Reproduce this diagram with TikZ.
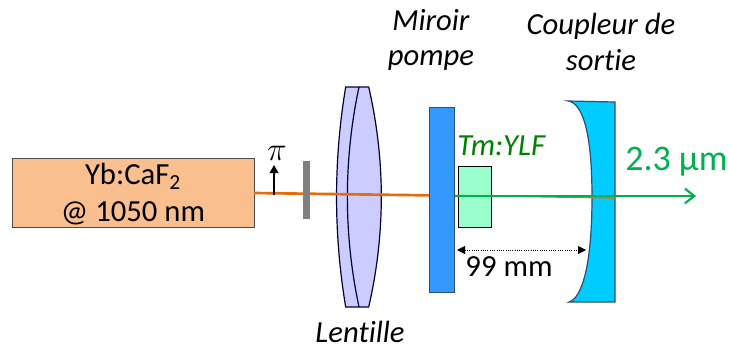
\documentclass[tikz,border=0pt]{standalone}
\usepackage{fontspec}
\setmainfont[Ligatures=NoCommon]{Carlito}
\usetikzlibrary{arrows.meta}
\definecolor{laserfill}{HTML}{FABF8F}
\definecolor{lensfill}{HTML}{CCCCFF}
\definecolor{mirrorfill}{HTML}{3399FF}
\definecolor{crystalfill}{HTML}{99FFCC}
\definecolor{couplerfill}{HTML}{00CCFF}
\definecolor{beamorange}{HTML}{E46C0A}
\definecolor{beamgreen}{HTML}{00B050}
\definecolor{edgeblue}{HTML}{2F4F6F}
\definecolor{labelgreen}{HTML}{008000}
\tikzset{
  lbl/.style={font=\fontsize{23pt}{27.75pt}\selectfont,inner sep=0pt,align=center},
  ilbl/.style={lbl,font=\fontsize{23pt}{26.5pt}\selectfont\itshape},
  optic/.style={draw=edgeblue,line width=0.9pt},
  beam/.style={line width=2pt},
}
\begin{document}
\begin{tikzpicture}[x=0.75pt,y=-0.75pt]
\useasboundingbox (0,0) rectangle (729,347);
% laser
\node[draw=black!70,line width=0.9pt,fill=laserfill,minimum width=181.5pt,minimum height=51.75pt,inner sep=0pt,anchor=north west] (laser) at (12,158) {};
\node[lbl] (lasertext) at (133,194) {Yb:CaF\textsubscript{2}\\@ 1050 nm};
% lens
\filldraw[fill=lensfill,optic,draw=black!80!blue] (345.7,87) .. controls (333.5,160) and (333.5,234) .. (345.7,307) -- (368.7,307) .. controls (385.5,234) and (385.5,160) .. (368.7,87) -- cycle;
\draw[optic,draw=black!80!blue] (359,87) .. controls (343.5,160) and (343.5,234) .. (359,307);
% coordinates of the beams
\coordinate (beamA) at (254,193);
\coordinate (beamB) at (440,195.5);
\coordinate (beamC) at (616,198);
\coordinate (beamG) at (455,196);
\coordinate (beamEnd) at (696,196);
% coupler
\filldraw[fill=couplerfill,draw=edgeblue,line width=0.9pt] (568,101) .. controls (582,103) and (592,130) .. (592,197) .. controls (592,265) and (582,298) .. (569,302) -- (615,302) -- (615,102) -- cycle;
% orange beam
\draw[beamorange,beam] (beamA) -- (beamB);
% gray plate
\node[fill=gray,minimum width=5.25pt,minimum height=43.5pt,inner sep=0pt,anchor=north west] (plate) at (303,161) {};
% mirror
\node[fill=mirrorfill,draw=edgeblue,line width=0.8pt,minimum width=18.75pt,minimum height=138.75pt,inner sep=0pt,anchor=north west] (mirror) at (429,107) {};
% crystal
\node[fill=crystalfill,draw=black,line width=0.9pt,minimum width=24.75pt,minimum height=45.75pt,inner sep=0pt,anchor=north west] (crystal) at (458,166) {};
% beams over the optics
\draw[beamorange,line width=1pt] (mirror.east |- beamB) -- (beamC);
\draw[beamgreen,beam,-{Straight Barb[length=7pt,width=11pt,line width=1.6pt]}] (beamG) -- (beamEnd);
% polarisation
\coordinate (polA) at (274,195);
\coordinate (polB) at (274,165);
\draw[black,line width=1.1pt,-{Triangle[length=6pt,width=6.5pt]}] (polA) -- (polB);
\node[lbl,font=\fontsize{25pt}{27pt}\selectfont] (pi) at (277,153) {$\pi$};
% dimension
\coordinate (dimA) at (457,250);
\coordinate (dimB) at (586,250);
\draw[black,line width=0.7pt,densely dotted,{Triangle[length=6pt,width=6pt]}-{Triangle[length=6pt,width=6pt]}] (dimA) -- (dimB);
% labels
\node[lbl] (dim) at (509,267) {99 mm};
\node[ilbl] (miroir) at (431,40) {Miroir\\pompe};
\node[ilbl] (coupleur) at (601,42) {Coupleur de\\sortie};
\node[ilbl] (lentille) at (360,332) {Lentille};
\node[ilbl,text=labelgreen,anchor=west] (tm) at (457,146) {Tm:YLF};
\node[lbl,text=beamgreen,anchor=west,font=\fontsize{27pt}{30pt}\selectfont] (out) at (625,162) {2.3 µm};
\end{tikzpicture}
\end{document}
